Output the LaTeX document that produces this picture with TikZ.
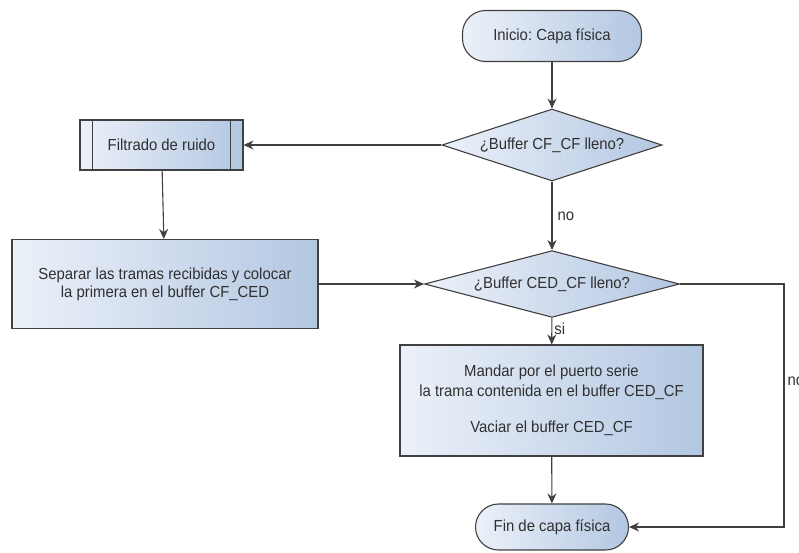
\documentclass[tikz,border=0pt]{standalone}
\usepackage{fontspec}
\setmainfont{Liberation Sans}[FakeStretch=0.93]
\usetikzlibrary{shapes.geometric,arrows.meta}
\definecolor{fillL}{HTML}{ECF1F9}
\definecolor{fillR}{HTML}{B3C7E2}
\definecolor{edge}{HTML}{404040}
\definecolor{txt}{HTML}{303030}
\tikzset{
  base/.style={draw=edge, line width=1.1pt, left color=fillL, right color=fillR, text=txt, font=\fontsize{16}{19}\selectfont\frenchspacing, inner sep=0pt, align=center},
  term/.style={base, rectangle, rounded corners=23pt},
  proc/.style={base, rectangle},
  dec/.style={base, diamond, aspect=3},
  conn/.style={draw=edge, line width=1.1pt, -{Stealth[length=10pt,width=9pt]}},
  lbl/.style={text=txt, font=\fontsize{16}{19}\selectfont, inner sep=0pt}
}
\begin{document}
\begin{tikzpicture}[x=1pt,y=-1pt]
\useasboundingbox (0,0) rectangle (799,552);
\node[term, minimum width=179pt, minimum height=51pt] (start) at (552,36) {Inicio: Capa física};
\node[dec, minimum width=220pt, minimum height=72pt] (d1) at (552,145) {¿Buffer CF\_CF lleno?};
\node[proc, minimum width=163pt, minimum height=50pt] (filt) at (161.5,145) {Filtrado de ruido};
\draw[edge, line width=1.1pt] ([xshift=13pt]filt.north west) -- ([xshift=13pt]filt.south west);
\draw[edge, line width=1.1pt] ([xshift=-13pt]filt.north east) -- ([xshift=-13pt]filt.south east);
\node[proc, minimum width=306pt, minimum height=89pt, font=\fontsize{16}{18}\selectfont] (sep) at (165,284) {Separar las tramas recibidas y colocar\\la primera en el buffer CF\_CED};
\node[dec, minimum width=255pt, minimum height=52pt] (d2) at (552,284) {¿Buffer CED\_CF lleno?};
\node[proc, minimum width=303pt, minimum height=111pt, font=\fontsize{16}{20}\selectfont] (mandar) at (551.5,400.5) {Mandar por el puerto serie\\la trama contenida en el buffer CED\_CF\\[16pt]Vaciar el buffer CED\_CF};
\node[term, minimum width=153pt, minimum height=46pt] (fin) at (552,527) {Fin de capa física};
\coordinate (c1) at (784,284);
\coordinate (c2) at (784,527);
\draw[conn] (start) -- (d1);
\draw[conn] (d1) -- (filt);
\draw[conn] (filt) -- (sep);
\draw[conn] (d1) -- node[lbl, anchor=west, pos=0.51, xshift=5pt]{no} (d2);
\draw[conn] (sep.east) -- (d2.west);
\draw[conn] (d2) -- node[lbl, anchor=west, pos=0.42, xshift=2pt]{si} (mandar);
\draw[conn] (mandar) -- (fin);
\draw[conn] (d2.east) -- (c1) -- node[lbl, anchor=west, pos=0.40, xshift=3pt]{no} (c2) -- (fin.east);
\end{tikzpicture}
\end{document}
